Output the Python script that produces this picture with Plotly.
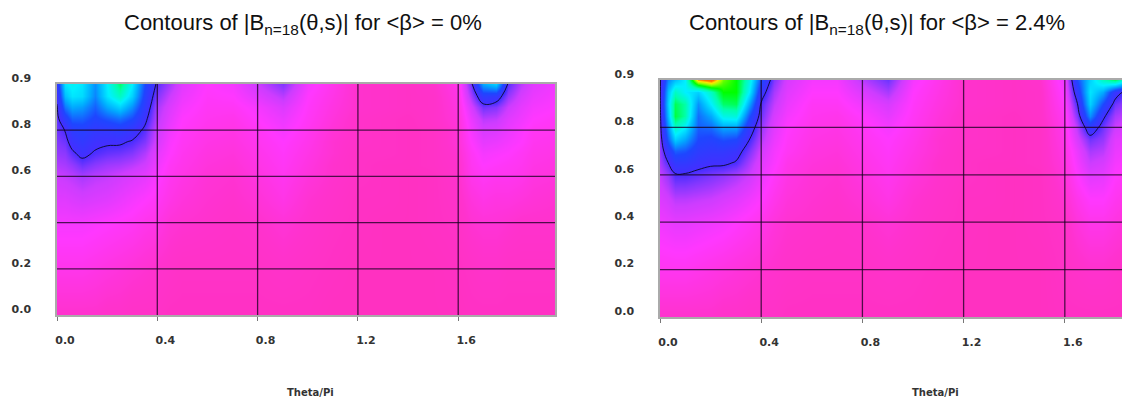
import numpy as np
import plotly.graph_objects as go

# ---- data ----
THETA = [0, 0.03, 0.06, 0.1, 0.15, 0.2, 0.25, 0.3, 0.35, 0.4, 0.45, 0.5, 0.6, 0.7, 0.8,
         0.9, 1.0, 1.1, 1.2, 1.3, 1.4, 1.5, 1.6, 1.65, 1.7, 1.75, 1.8, 1.85, 1.9, 2.0]
S = [0, 0.2, 0.4, 0.5, 0.6, 0.65, 0.7, 0.75, 0.8, 0.85, 0.9, 0.95, 1.0]

# |B| columns (one list per theta, values from s=0 up to s=1), beta = 0%
B_BETA0 = [
    [0.05, 0.08, 0.11, 0.13, 0.15, 0.165, 0.18, 0.19, 0.20, 0.205, 0.215, 0.235, 0.26],
    [0.05, 0.08, 0.11, 0.13, 0.155, 0.17, 0.185, 0.20, 0.22, 0.27, 0.34, 0.40, 0.44],
    [0.05, 0.08, 0.11, 0.135, 0.16, 0.18, 0.21, 0.24, 0.27, 0.32, 0.38, 0.44, 0.46],
    [0.05, 0.08, 0.11, 0.14, 0.17, 0.20, 0.235, 0.26, 0.28, 0.32, 0.37, 0.43, 0.44],
    [0.05, 0.075, 0.105, 0.135, 0.16, 0.185, 0.215, 0.235, 0.26, 0.29, 0.32, 0.35, 0.36],
    [0.045, 0.07, 0.10, 0.13, 0.155, 0.175, 0.205, 0.228, 0.26, 0.31, 0.38, 0.44, 0.45],
    [0.045, 0.065, 0.095, 0.12, 0.145, 0.17, 0.20, 0.228, 0.27, 0.33, 0.42, 0.50, 0.55],
    [0.04, 0.06, 0.09, 0.11, 0.135, 0.16, 0.19, 0.215, 0.25, 0.30, 0.36, 0.42, 0.45],
    [0.04, 0.055, 0.08, 0.10, 0.125, 0.145, 0.165, 0.19, 0.21, 0.235, 0.26, 0.28, 0.30],
    [0.04, 0.05, 0.075, 0.09, 0.105, 0.115, 0.125, 0.14, 0.15, 0.16, 0.17, 0.19, 0.21],
    [0.035, 0.045, 0.06, 0.075, 0.085, 0.09, 0.10, 0.105, 0.115, 0.125, 0.135, 0.15, 0.17],
    [0.035, 0.04, 0.055, 0.065, 0.075, 0.08, 0.085, 0.09, 0.095, 0.10, 0.11, 0.12, 0.13],
    [0.035, 0.04, 0.05, 0.055, 0.06, 0.065, 0.07, 0.075, 0.08, 0.085, 0.09, 0.095, 0.10],
    [0.035, 0.04, 0.045, 0.05, 0.055, 0.06, 0.065, 0.07, 0.075, 0.08, 0.09, 0.10, 0.11],
    [0.035, 0.04, 0.05, 0.06, 0.07, 0.075, 0.08, 0.085, 0.09, 0.10, 0.11, 0.13, 0.15],
    [0.035, 0.045, 0.06, 0.075, 0.085, 0.09, 0.095, 0.10, 0.11, 0.12, 0.135, 0.16, 0.19],
    [0.035, 0.04, 0.05, 0.055, 0.065, 0.07, 0.075, 0.08, 0.085, 0.09, 0.095, 0.10, 0.11],
    [0.03, 0.035, 0.04, 0.045, 0.05, 0.05, 0.055, 0.055, 0.06, 0.065, 0.07, 0.075, 0.08],
    [0.03, 0.03, 0.035, 0.035, 0.04, 0.04, 0.04, 0.045, 0.045, 0.045, 0.05, 0.05, 0.05],
    [0.03, 0.03, 0.03, 0.035, 0.035, 0.035, 0.04, 0.04, 0.04, 0.04, 0.045, 0.045, 0.045],
    [0.03, 0.03, 0.03, 0.03, 0.03, 0.035, 0.035, 0.035, 0.035, 0.035, 0.04, 0.04, 0.04],
    [0.03, 0.03, 0.035, 0.035, 0.035, 0.04, 0.04, 0.04, 0.04, 0.045, 0.045, 0.045, 0.05],
    [0.03, 0.035, 0.04, 0.045, 0.05, 0.05, 0.055, 0.06, 0.06, 0.065, 0.07, 0.075, 0.08],
    [0.035, 0.04, 0.055, 0.065, 0.08, 0.085, 0.09, 0.10, 0.11, 0.12, 0.14, 0.17, 0.20],
    [0.035, 0.045, 0.06, 0.075, 0.09, 0.10, 0.11, 0.125, 0.14, 0.16, 0.20, 0.27, 0.38],
    [0.035, 0.045, 0.06, 0.07, 0.085, 0.095, 0.105, 0.12, 0.135, 0.155, 0.19, 0.26, 0.42],
    [0.035, 0.04, 0.055, 0.07, 0.085, 0.09, 0.10, 0.11, 0.12, 0.13, 0.15, 0.18, 0.21],
    [0.035, 0.04, 0.05, 0.065, 0.08, 0.085, 0.09, 0.10, 0.105, 0.115, 0.125, 0.14, 0.16],
    [0.035, 0.04, 0.05, 0.06, 0.07, 0.075, 0.08, 0.085, 0.09, 0.10, 0.11, 0.12, 0.13],
    [0.035, 0.04, 0.05, 0.055, 0.065, 0.07, 0.075, 0.08, 0.085, 0.09, 0.10, 0.105, 0.11],
]

# beta = 2.4%
B_BETA24 = [
    [0.05, 0.085, 0.115, 0.135, 0.155, 0.17, 0.18, 0.19, 0.20, 0.205, 0.21, 0.21, 0.21],
    [0.05, 0.085, 0.12, 0.145, 0.18, 0.215, 0.26, 0.32, 0.36, 0.40, 0.42, 0.40, 0.35],
    [0.05, 0.085, 0.125, 0.16, 0.215, 0.26, 0.32, 0.42, 0.50, 0.57, 0.56, 0.50, 0.40],
    [0.05, 0.085, 0.125, 0.16, 0.215, 0.26, 0.31, 0.38, 0.45, 0.52, 0.52, 0.45, 0.45],
    [0.05, 0.08, 0.12, 0.155, 0.205, 0.24, 0.27, 0.30, 0.32, 0.33, 0.36, 0.42, 0.72],
    [0.05, 0.075, 0.115, 0.15, 0.195, 0.23, 0.26, 0.29, 0.33, 0.38, 0.45, 0.50, 0.76],
    [0.045, 0.07, 0.11, 0.14, 0.185, 0.23, 0.26, 0.31, 0.38, 0.47, 0.55, 0.60, 0.64],
    [0.045, 0.065, 0.10, 0.13, 0.17, 0.215, 0.245, 0.30, 0.38, 0.48, 0.56, 0.60, 0.60],
    [0.04, 0.06, 0.09, 0.115, 0.15, 0.17, 0.195, 0.225, 0.26, 0.31, 0.38, 0.45, 0.48],
    [0.04, 0.055, 0.08, 0.10, 0.12, 0.13, 0.145, 0.165, 0.18, 0.20, 0.215, 0.25, 0.30],
    [0.04, 0.05, 0.065, 0.08, 0.095, 0.105, 0.11, 0.12, 0.13, 0.14, 0.155, 0.17, 0.19],
    [0.035, 0.045, 0.055, 0.065, 0.075, 0.08, 0.09, 0.095, 0.10, 0.11, 0.12, 0.13, 0.14],
    [0.035, 0.04, 0.05, 0.055, 0.06, 0.065, 0.07, 0.075, 0.08, 0.085, 0.09, 0.10, 0.11],
    [0.035, 0.04, 0.045, 0.05, 0.055, 0.06, 0.065, 0.07, 0.075, 0.08, 0.09, 0.10, 0.11],
    [0.035, 0.04, 0.05, 0.06, 0.07, 0.075, 0.08, 0.085, 0.09, 0.10, 0.115, 0.135, 0.16],
    [0.035, 0.045, 0.06, 0.075, 0.085, 0.09, 0.095, 0.10, 0.11, 0.125, 0.14, 0.17, 0.20],
    [0.035, 0.04, 0.05, 0.055, 0.065, 0.07, 0.075, 0.08, 0.085, 0.09, 0.095, 0.10, 0.11],
    [0.03, 0.035, 0.04, 0.045, 0.05, 0.05, 0.055, 0.055, 0.06, 0.065, 0.07, 0.075, 0.08],
    [0.03, 0.03, 0.035, 0.035, 0.04, 0.04, 0.04, 0.045, 0.045, 0.045, 0.05, 0.05, 0.05],
    [0.03, 0.03, 0.03, 0.035, 0.035, 0.035, 0.04, 0.04, 0.04, 0.04, 0.045, 0.045, 0.045],
    [0.03, 0.03, 0.03, 0.03, 0.03, 0.035, 0.035, 0.035, 0.035, 0.035, 0.04, 0.04, 0.04],
    [0.03, 0.03, 0.035, 0.035, 0.035, 0.04, 0.04, 0.04, 0.04, 0.045, 0.045, 0.045, 0.05],
    [0.035, 0.04, 0.045, 0.055, 0.065, 0.07, 0.075, 0.08, 0.085, 0.09, 0.10, 0.11, 0.12],
    [0.035, 0.045, 0.065, 0.08, 0.10, 0.11, 0.12, 0.14, 0.16, 0.19, 0.22, 0.26, 0.30],
    [0.035, 0.05, 0.08, 0.10, 0.13, 0.15, 0.17, 0.20, 0.26, 0.36, 0.42, 0.44, 0.42],
    [0.035, 0.05, 0.08, 0.10, 0.125, 0.14, 0.16, 0.18, 0.20, 0.235, 0.30, 0.38, 0.50],
    [0.035, 0.045, 0.07, 0.085, 0.10, 0.11, 0.12, 0.13, 0.15, 0.17, 0.20, 0.25, 0.55],
    [0.035, 0.04, 0.06, 0.075, 0.09, 0.10, 0.11, 0.12, 0.13, 0.15, 0.17, 0.20, 0.45],
    [0.035, 0.04, 0.055, 0.065, 0.075, 0.08, 0.085, 0.09, 0.10, 0.11, 0.12, 0.13, 0.15],
    [0.035, 0.04, 0.05, 0.055, 0.065, 0.07, 0.075, 0.08, 0.085, 0.09, 0.10, 0.105, 0.11],
]

CONTOUR_LEVEL = 0.22
X_TICKS = [0.0, 0.4, 0.8, 1.2, 1.6]
X_TICK_TEXT = ["0.0", "0.4", "0.8", "1.2", "1.6"]
Y_TICKS = [0.0, 0.2, 0.4, 0.6, 0.8, 1.0]
Y_TICK_TEXT = ["0.0", "0.2", "0.4", "0.6", "0.8", "0.9"]
TITLES = ["Contours of |B<sub>n=18</sub>(θ,s)| for &lt;β&gt; = 0%",
          "Contours of |B<sub>n=18</sub>(θ,s)| for &lt;β&gt; = 2.4%"]
X_TITLE = "Theta/Pi"

COLORSCALE = [
    [0.00, "rgb(255,48,176)"],
    [0.05, "rgb(255,50,205)"],
    [0.10, "rgb(255,55,255)"],
    [0.15, "rgb(205,60,255)"],
    [0.19, "rgb(130,55,255)"],
    [0.22, "rgb(70,45,255)"],
    [0.30, "rgb(30,70,255)"],
    [0.38, "rgb(0,170,255)"],
    [0.45, "rgb(0,240,255)"],
    [0.52, "rgb(0,255,170)"],
    [0.60, "rgb(0,255,0)"],
    [0.66, "rgb(160,255,0)"],
    [0.70, "rgb(255,230,0)"],
    [0.74, "rgb(255,120,0)"],
    [1.00, "rgb(255,0,0)"],
]

fig = go.Figure()

panels = [
    dict(cols=B_BETA0, xa="x", ya="y"),
    dict(cols=B_BETA24, xa="x2", ya="y2"),
]
for p in panels:
    z = np.array(p["cols"]).T
    fig.add_trace(go.Heatmap(x=THETA, y=S, z=z, zmin=0, zmax=1, zsmooth="best",
                             colorscale=COLORSCALE, showscale=False,
                             xaxis=p["xa"], yaxis=p["ya"], hoverinfo="skip"))
    fig.add_trace(go.Contour(x=THETA, y=S, z=z, showscale=False,
                             contours=dict(start=CONTOUR_LEVEL, end=CONTOUR_LEVEL, size=1,
                                           coloring="none"),
                             line=dict(color="rgba(10,10,40,0.9)", width=1, smoothing=1.2),
                             xaxis=p["xa"], yaxis=p["ya"], hoverinfo="skip"))

tick_font = dict(family="DejaVu Sans", size=11, color="#333", weight="bold")

common_x = dict(tickvals=X_TICKS, ticktext=X_TICK_TEXT, showgrid=False, zeroline=False,
                ticks="outside", ticklen=4, tickcolor="#777", showline=True,
                linecolor="#aaa", linewidth=1.5, mirror=True, automargin=False,
                tickfont=tick_font, ticklabelstandoff=10, ticklabelshift=8)
common_y = dict(tickvals=Y_TICKS, ticktext=Y_TICK_TEXT, showgrid=False, zeroline=False,
                ticks="", showline=True, linecolor="#aaa", linewidth=1.5, automargin=False,
                tickfont=tick_font, ticklabelstandoff=22, ticklabelshift=-6, range=[0, 1.0])

fig.update_layout(
    width=1122, height=400, margin=dict(l=0, r=0, t=0, b=0, autoexpand=False),
    paper_bgcolor="white", plot_bgcolor="white", showlegend=False,
    xaxis=dict(domain=[57 / 1122, 555 / 1122], range=[0, 1.986], anchor="y", **common_x),
    yaxis=dict(domain=[1 - 315 / 400, 1 - 84 / 400], anchor="x", mirror=True, **common_y),
    xaxis2=dict(domain=[660 / 1122, 1.0], range=[0, 1.826], anchor="y2", **common_x),
    yaxis2=dict(domain=[1 - 317 / 400, 1 - 80 / 400], anchor="x2", **common_y),
)

# grid lines drawn above the coloured field
shapes = []
for xa, ya, xmax in [("x", "y", 1.986), ("x2", "y2", 1.826)]:
    for gx in X_TICKS[1:]:
        shapes.append(dict(type="line", xref=xa, yref=ya, x0=gx, x1=gx, y0=0, y1=1,
                           line=dict(color="rgba(20,0,30,0.75)", width=1.3), layer="above"))
    for gy in Y_TICKS[1:-1]:
        shapes.append(dict(type="line", xref=xa, yref=ya, x0=0, x1=xmax, y0=gy, y1=gy,
                           line=dict(color="rgba(20,0,30,0.75)", width=1.3), layer="above"))
fig.update_layout(shapes=shapes)

title_font = dict(family="Liberation Sans", size=22, color="#111")
axis_title_font = dict(family="DejaVu Sans", size=10, color="#333")
annotations = [
    dict(text=TITLES[0], x=303 / 1122, y=1 - 24 / 400, xref="paper", yref="paper",
         xanchor="center", yanchor="middle", showarrow=False, font=title_font),
    dict(text=TITLES[1], x=877 / 1122, y=1 - 24 / 400, xref="paper", yref="paper",
         xanchor="center", yanchor="middle", showarrow=False, font=title_font),
    dict(text="<b>" + X_TITLE + "</b>", x=310 / 1122, y=1 - 392 / 400, xref="paper", yref="paper",
         xanchor="center", yanchor="middle", showarrow=False, font=axis_title_font),
    dict(text="<b>" + X_TITLE + "</b>", x=935 / 1122, y=1 - 392 / 400, xref="paper", yref="paper",
         xanchor="center", yanchor="middle", showarrow=False, font=axis_title_font),
]
fig.update_layout(annotations=annotations)

fig.write_html("out.html")
